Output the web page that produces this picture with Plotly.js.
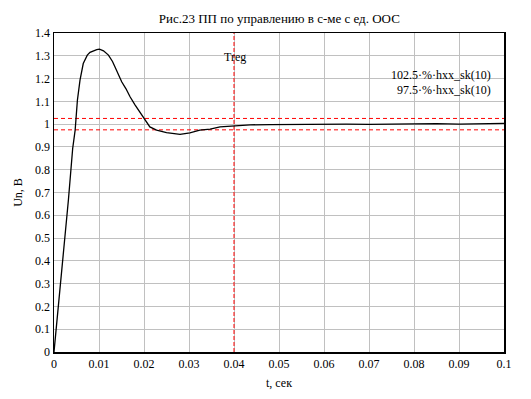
<!DOCTYPE html>
<html>
<head>
<meta charset="utf-8">
<script src="https://cdn.plot.ly/plotly-3.0.1.min.js"></script>
<style>html,body{margin:0;padding:0;background:#fff;}#chart{width:531px;height:399px;}</style>
</head>
<body>
<div id="chart"></div>
<script>
var tValues = [0, 0.0005, 0.0011, 0.002, 0.0032, 0.00415, 0.0047, 0.0052, 0.00578, 0.0065, 0.0074, 0.008, 0.0086, 0.0095, 0.0101, 0.011, 0.0121, 0.013, 0.01356, 0.0143, 0.01504, 0.016, 0.0169, 0.018, 0.019, 0.0199, 0.0206, 0.0213, 0.0228, 0.025, 0.028, 0.0302, 0.0324, 0.0347, 0.0369, 0.0398, 0.0436, 0.048, 0.052, 0.056, 0.06, 0.065, 0.07, 0.075, 0.08, 0.085, 0.09, 0.095, 0.1];
var unValues = [0, 0.1, 0.228, 0.43, 0.667, 0.893, 0.974, 1.105, 1.193, 1.266, 1.303, 1.315, 1.321, 1.327, 1.329, 1.322, 1.303, 1.275, 1.251, 1.22, 1.186, 1.155, 1.12, 1.085, 1.055, 1.029, 1.005, 0.988, 0.974, 0.963, 0.955, 0.962, 0.974, 0.978, 0.988, 0.991, 0.997, 0.998, 0.999, 1.0, 0.999, 1.0, 0.999, 1.001, 1.0, 1.002, 1.0, 1.001, 1.003];
var bandT = [0, 0.1];
var upperBand = [1.025, 1.025];
var lowerBand = [0.975, 0.975];
var tReg = [0.04, 0.04];
var tRegY = [0, 1.4];
var xTicks = [0, 0.01, 0.02, 0.03, 0.04, 0.05, 0.06, 0.07, 0.08, 0.09, 0.1];
var yTicks = [0, 0.1, 0.2, 0.3, 0.4, 0.5, 0.6, 0.7, 0.8, 0.9, 1, 1.1, 1.2, 1.3, 1.4];
var upperLabel = "102.5·%·hxx_sk(10)";
var lowerLabel = "97.5·%·hxx_sk(10)";

var font = "'Liberation Serif', 'Times New Roman', serif";
var redDash = {color: "#ff0000", width: 1, dash: "4px,3px"};

var traces = [
  {x: bandT, y: upperBand, mode: "lines", line: redDash, hoverinfo: "skip"},
  {x: bandT, y: lowerBand, mode: "lines", line: redDash, hoverinfo: "skip"},
  {x: tReg, y: tRegY, mode: "lines", line: {color: "#ff0000", width: 1, dash: "4px,2px"}, hoverinfo: "skip"},
  {x: tValues, y: unValues, mode: "lines", line: {color: "#000000", width: 1.3}}
];

var layout = {
  width: 531, height: 399,
  margin: {l: 54, r: 27, t: 33, b: 47},
  paper_bgcolor: "#ffffff", plot_bgcolor: "#ffffff",
  showlegend: false,
  font: {family: font, size: 12, color: "#000000"},
  title: {text: "Рис.23 ПП по управлению в с-ме с ед. ООС", font: {family: font, size: 13, color: "#000000"}, x: 0.526, xanchor: "center", y: 0.955, yanchor: "middle"},
  xaxis: {
    range: [0, 0.1], tickvals: xTicks, ticktext: xTicks.map(String),
    showgrid: true, gridcolor: "#c0c0c0", gridwidth: 1, zeroline: false,
    showline: true, linecolor: "#000000", linewidth: 1.5, mirror: true,
    ticks: "", ticklen: 0, tickfont: {family: font, size: 12, color: "#000000"},
    title: {text: "t, сек", font: {family: font, size: 12, color: "#000000"}, standoff: 8}
  },
  yaxis: {
    range: [0, 1.4], tickvals: yTicks, ticktext: yTicks.map(String),
    showgrid: true, gridcolor: "#c0c0c0", gridwidth: 1, zeroline: false,
    showline: true, linecolor: "#000000", linewidth: 1.5, mirror: true,
    ticks: "", ticklen: 0, tickfont: {family: font, size: 12, color: "#000000"},
    title: {text: "Un, B", font: {family: font, size: 12, color: "#000000"}, standoff: 10}
  },
  annotations: [
    {x: 0.0402, y: 1.294, xref: "x", yref: "y", text: "Treg", showarrow: false, xanchor: "center", yanchor: "middle", font: {family: font, size: 12, color: "#000000"}},
    {x: 0.0976, y: 1.215, xref: "x", yref: "y", text: upperLabel, showarrow: false, xanchor: "right", yanchor: "middle", font: {family: font, size: 12, color: "#000000"}},
    {x: 0.0976, y: 1.149, xref: "x", yref: "y", text: lowerLabel, showarrow: false, xanchor: "right", yanchor: "middle", font: {family: font, size: 12, color: "#000000"}}
  ]
};

Plotly.newPlot("chart", traces, layout, {displayModeBar: false, staticPlot: true});
</script>
</body>
</html>
